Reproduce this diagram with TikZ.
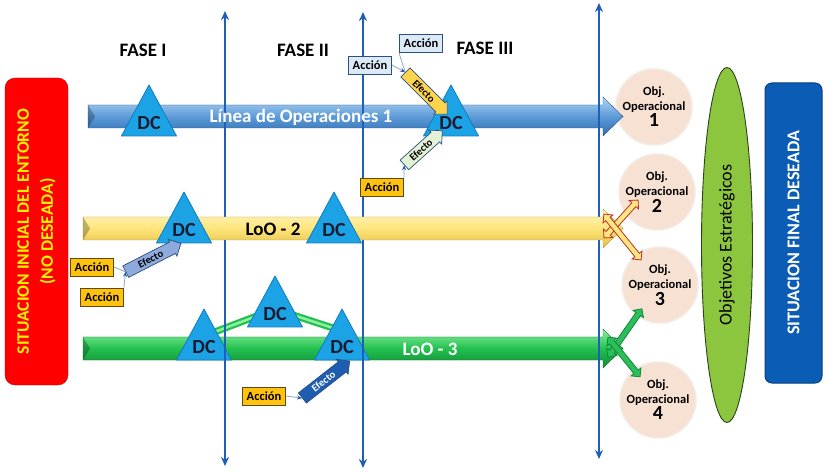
\documentclass[tikz,border=0pt]{standalone}
\usepackage{fontspec}
\setmainfont{Carlito}
\usetikzlibrary{shapes.arrows,shapes.geometric,arrows.meta}
\definecolor{phaseblue}{HTML}{1F5FB8}
\definecolor{loatop}{HTML}{B4D5F3}
\definecolor{loamid}{HTML}{5C9AD8}
\definecolor{loabot}{HTML}{2F6CAE}
\definecolor{yeltop}{HTML}{FFF6C4}
\definecolor{yelmid}{HTML}{FFE57A}
\definecolor{yelbot}{HTML}{E0BE45}
\definecolor{grntop}{HTML}{8FF0A0}
\definecolor{grnmid}{HTML}{22C04F}
\definecolor{grnbot}{HTML}{0F8A36}
\definecolor{dcfill}{HTML}{1CA3E6}
\definecolor{dcedge}{HTML}{0E7CC0}
\definecolor{dctxt}{HTML}{1B1B2F}
\definecolor{accbluefill}{HTML}{DCE9F7}
\definecolor{accbluedraw}{HTML}{2B4F7E}
\definecolor{accyelfill}{HTML}{FFC20E}
\definecolor{accyeldraw}{HTML}{5C4A10}
\definecolor{efyel}{HTML}{FFD44D}
\definecolor{efgreen}{HTML}{E3F1D4}
\definecolor{eflav}{HTML}{8EAADC}
\definecolor{efdark}{HTML}{1F5DB0}
\definecolor{objfill}{HTML}{F7E1D3}
\definecolor{objdraw}{HTML}{F3ECE6}
\definecolor{ellfill}{HTML}{8CC63E}
\definecolor{elldraw}{HTML}{2B4417}
\definecolor{bluebox}{HTML}{0B5CB5}
\definecolor{blueboxdraw}{HTML}{0A3F80}
\definecolor{redbox}{HTML}{FF0000}
\definecolor{redtxt}{HTML}{FFF200}
\definecolor{acline}{HTML}{8EA9C1}
\definecolor{dblred}{HTML}{B8322A}
\definecolor{dblyel}{HTML}{FFE680}
\definecolor{dblgrn}{HTML}{2DBD5B}
\definecolor{dblgrnd}{HTML}{0E8A3A}
\newcommand\dctri[3]{%
  \path[dcshape] (#2-27.5,#3) -- (#2,#3-51) -- (#2+27.5,#3) -- cycle;
  \node[dctext] (#1) at (#2,#3-13) {DC};}
\newcommand\bigarrow[5]{%
  \path[#1] (#2,#3-11.5) -- (#4,#3-11.5) -- (#4,#3-19.5) -- (#5,#3) -- (#4,#3+19.5) -- (#4,#3+11.5) -- (#2,#3+11.5) -- cycle;
  \fill[black,opacity=0.25] (#2,#3-11.5) -- (#2+7,#3) -- (#2,#3+11.5) -- cycle;}
\tikzset{
  phase/.style={line width=2.6pt, draw=phaseblue, {Stealth[length=9pt,width=8pt]}-{Stealth[length=9pt,width=8pt]}},
  fase/.style={font=\fontsize{19}{22}\selectfont\bfseries, text=black, inner sep=0pt},
  dcshape/.style={fill=dcfill, draw=dcedge, line width=0.8pt, line join=round},
  dctext/.style={font=\fontsize{20}{22}\selectfont\bfseries, text=dctxt, inner sep=0pt},
  accblue/.style={draw=accbluedraw, fill=accbluefill, line width=0.9pt, font=\fontsize{12.5}{14}\selectfont\bfseries, inner sep=2pt, minimum width=43pt, minimum height=18pt},
  accyel/.style={accblue, draw=accyeldraw, fill=accyelfill},
  efecto/.style={shape=single arrow, single arrow head extend=3pt, inner sep=2.4pt, font=\fontsize{10.5}{11}\selectfont\bfseries, line width=0.7pt, draw=accbluedraw},
  acconn/.style={draw=acline, line width=0.8pt},
  acarrow/.style={acconn, -{Stealth[length=5pt,width=4pt,color=phaseblue]}},
  objc/.style={circle, minimum size=76pt, fill=objfill, draw=objdraw, line width=1.5pt, align=center, inner sep=0pt, font=\fontsize{12.5}{15}\selectfont\bfseries, text=black},
  loa/.style={top color=loatop, bottom color=loabot, middle color=loamid, draw=loabot!80!black, line width=0.4pt},
  loy/.style={top color=yeltop, bottom color=yelbot, middle color=yelmid, draw=yelbot!80!black, line width=0.4pt},
  log/.style={top color=grntop, bottom color=grnbot, middle color=grnmid, draw=grnbot!80!black, line width=0.4pt},
  dblyelstyle/.style={shape=double arrow, double arrow head extend=3.5pt, inner sep=2.4pt, fill=dblyel, draw=dblred, line width=0.8pt},
  dblgrnstyle/.style={shape=double arrow, double arrow head extend=3.5pt, inner sep=2.4pt, fill=dblgrn, draw=dblgrnd, line width=0.8pt},
  gbar/.style={line width=7pt, draw=grnmid},
  gbarhi/.style={line width=2.5pt, draw=grntop},
}
\begin{document}
\begin{tikzpicture}[x=1pt,y=-1pt]
\useasboundingbox (0,0) rectangle (828,473);
\fill[white] (0,0) rectangle (828,473);
% side boxes
\node[rectangle, rounded corners=10pt, fill=redbox, draw=redbox!80!black, rotate=90, minimum width=307pt, minimum height=63pt, align=center, text=redtxt, font=\fontsize{17.5}{24}\selectfont\bfseries] (ini) at (36.5,231.5) {SITUACION INICIAL DEL ENTORNO\\(NO DESEADA)};
\node[rectangle, rounded corners=7pt, fill=bluebox, draw=blueboxdraw, line width=1pt, rotate=90, minimum width=300pt, minimum height=57pt, text=white, font=\fontsize{18}{22}\selectfont\bfseries] (fin) at (793.5,233) {SITUACION FINAL DESEADA};
\node[ellipse, fill=ellfill, draw=elldraw, line width=0.9pt, rotate=90, minimum width=355pt, minimum height=51pt, inner sep=0pt, font=\fontsize{18}{22}\selectfont, text=black] (est) at (727,245) {Objetivos Estratégicos};
% objective circles
\node[objc] (o1) at (654,107) {Obj.\\Operacional\\[1pt]{\fontsize{20}{20}\selectfont 1}};
\node[objc] (o2) at (657,192) {Obj.\\Operacional\\[1pt]{\fontsize{20}{20}\selectfont 2}};
\node[objc] (o3) at (660,285) {Obj.\\Operacional\\[1pt]{\fontsize{20}{20}\selectfont 3}};
\node[objc] (o4) at (658,400) {Obj.\\Operacional\\[1pt]{\fontsize{20}{20}\selectfont 4}};
% lines of operation 1 and 3
\bigarrow{loa}{88}{116.5}{603}{623}
\bigarrow{log}{83}{348.5}{603}{623}
% green bars
\coordinate (gb1) at (212,333);
\coordinate (gb2) at (262,314);
\coordinate (gb3) at (290,314);
\coordinate (gb4) at (336,329);
\draw[gbar] (gb1) -- (gb2);
\draw[gbar] (gb3) -- (gb4);
\draw[gbarhi] (gb1) -- (gb2);
\draw[gbarhi] (gb3) -- (gb4);
% triangles on LoO 1 and 3
\dctri{dca}{149}{136}
\dctri{dcb}{451}{136}
\dctri{dcg1}{204}{360}
\dctri{dcgm}{275}{327}
\dctri{dcg2}{342}{360}
% phase lines
\coordinate (v1t) at (225,11);
\coordinate (v1b) at (225,466);
\coordinate (v2t) at (363,12);
\coordinate (v2b) at (363,468);
\coordinate (v3t) at (599,3);
\coordinate (v3b) at (599,459);
\draw[phase] (v1b) -- (v1t);
\draw[phase] (v2b) -- (v2t);
\draw[phase] (v3b) -- (v3t);
% line of operation 2
\bigarrow{loy}{83}{228.5}{603}{623}
\dctri{dcy1}{184}{243}
\dctri{dcy2}{334}{243}
% split arrows
\node[dblyelstyle, rotate=48, minimum height=51pt] (ya) at (621,219) {};
\node[dblyelstyle, rotate=-51, minimum height=59pt] (yb) at (622.5,237) {};
\node[dblgrnstyle, rotate=55, minimum height=59pt] (ga) at (625,333) {};
\node[dblgrnstyle, rotate=-51, minimum height=51pt] (gbb) at (624,357) {};
% labels on lines
\node[font=\fontsize{19}{22}\selectfont\bfseries, text=white] (t1) at (301,117) {Línea de Operaciones 1};
\node[font=\fontsize{19}{22}\selectfont\bfseries, text=black] (t2) at (273,229) {LoO - 2};
\node[font=\fontsize{19}{22}\selectfont\bfseries, text=white] (t3) at (430,349) {LoO - 3};
% phases
\node[fase] (f1) at (143,50) {FASE I};
\node[fase] (f2) at (303,50) {FASE II};
\node[fase] (f3) at (485,48) {FASE III};
% actions and effects
\node[accblue] (accA) at (370,65) {Acción};
\node[accblue] (accB) at (421,43.5) {Acción};
\node[accyel] (accC) at (382,187.5) {Acción};
\node[accyel] (accD) at (92,267) {Acción};
\node[accyel] (accE) at (102,297) {Acción};
\node[accyel] (accF) at (264,396) {Acción};
\node[efecto, fill=efyel, rotate=-45, minimum height=59pt] (ef3a) at (424,91) {Efecto};
\node[efecto, fill=efgreen, rotate=42, minimum height=51pt] (ef3b) at (421,150) {Efecto};
\node[efecto, fill=eflav, rotate=27, minimum height=62pt] (ef1) at (150.5,259) {Efecto};
\node[efecto, fill=efdark, text=white, rotate=38, minimum height=60pt] (ef2) at (323.5,381.5) {Efecto};
\draw[acarrow] (accA.east) -- (ef3a.tail);
\draw[acconn] (accB.south west) -- (ef3a.tail);
\draw[acarrow] (accC.north east) -- (ef3b.tail);
\draw[acconn] (accD.east) -- (ef1.tail);
\draw[acarrow] (accE.north east) -- (ef1.tail);
\draw[acarrow] (accF.east) -- (ef2.tail);
\end{tikzpicture}
\end{document}
